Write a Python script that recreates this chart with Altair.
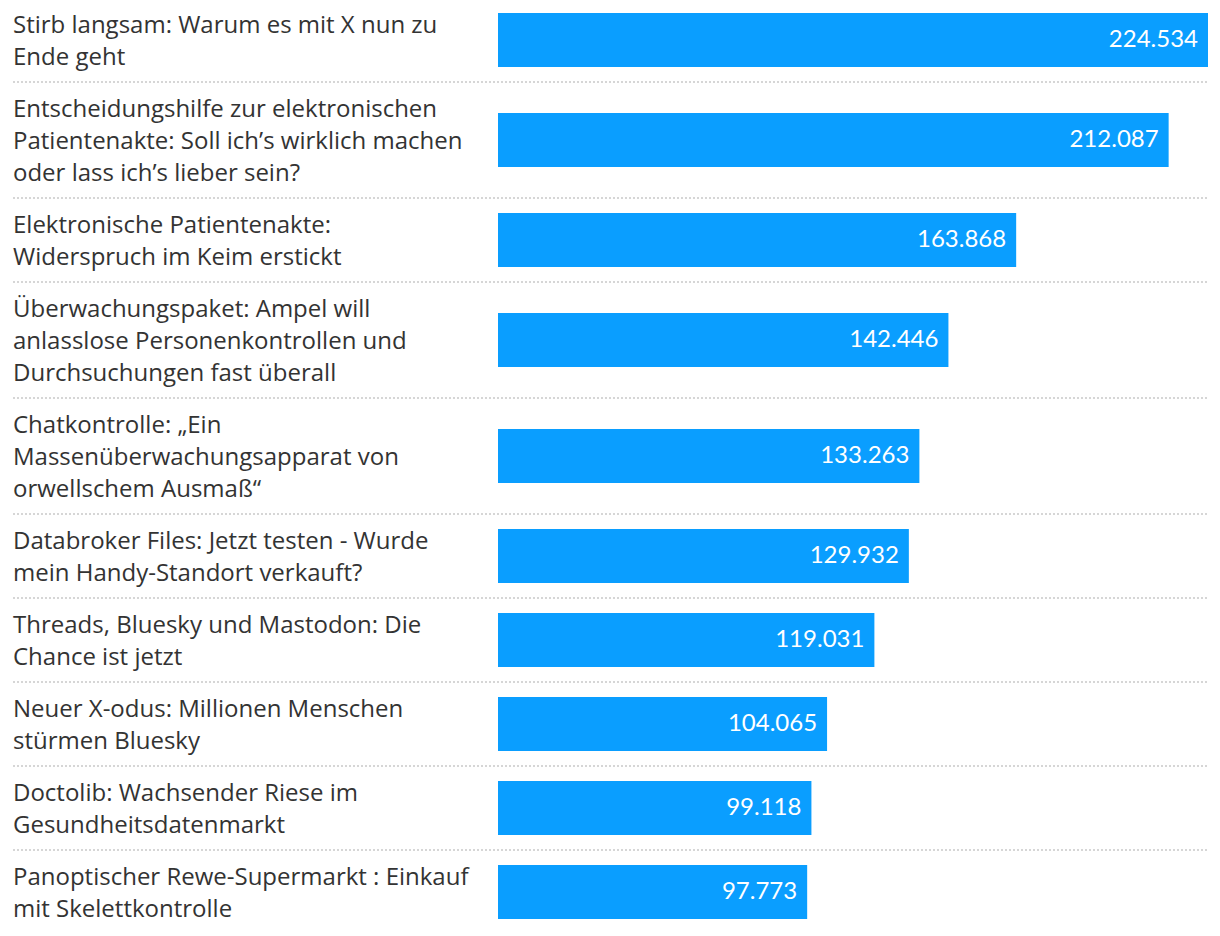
import altair as alt
import pandas as pd

titles = [
    "Stirb langsam: Warum es mit X nun zu\nEnde geht",
    "Entscheidungshilfe zur elektronischen\nPatientenakte: Soll ich’s wirklich machen\noder lass ich’s lieber sein?",
    "Elektronische Patientenakte:\nWiderspruch im Keim erstickt",
    "Überwachungspaket: Ampel will\nanlasslose Personenkontrollen und\nDurchsuchungen fast überall",
    "Chatkontrolle: „Ein\nMassenüberwachungsapparat von\norwellschem Ausmaß“",
    "Databroker Files: Jetzt testen - Wurde\nmein Handy-Standort verkauft?",
    "Threads, Bluesky und Mastodon: Die\nChance ist jetzt",
    "Neuer X-odus: Millionen Menschen\nstürmen Bluesky",
    "Doctolib: Wachsender Riese im\nGesundheitsdatenmarkt",
    "Panoptischer Rewe-Supermarkt : Einkauf\nmit Skelettkontrolle",
]
views = [224534, 212087, 163868, 142446, 133263, 129932, 119031, 104065, 99118, 97773]

LINE_H = 32
PAD = 20
BAR_H = 54

df = pd.DataFrame({"title": titles, "views": views})
df["lines"] = df["title"].str.count("\n") + 1
df["rowh"] = PAD + LINE_H * df["lines"]
df["bottom"] = df["rowh"].cumsum()
df["top"] = df["bottom"] - df["rowh"]
df["center"] = (df["top"] + df["bottom"]) / 2
df["ty"] = df["center"] - (df["lines"] - 1) * LINE_H / 2
df["b0"] = df["center"] - BAR_H / 2
df["b1"] = df["center"] + BAR_H / 2
df["label"] = df["views"].map(lambda v: f"{v:,}".replace(",", "."))
total = int(df["bottom"].iloc[-1])

seps = pd.DataFrame({"y": df["bottom"].iloc[:-1].tolist()})

yscale = alt.Scale(domain=[0, total], range=[-10, total - 10], zero=False, nice=False)
xscale = alt.Scale(domain=[0, max(views)], range=[490, 1200], zero=False, nice=False)

base = alt.Chart(df)

bars = base.mark_bar(color="#0A9EFF").encode(
    x=alt.X("views:Q", scale=xscale, axis=None),
    x2=alt.datum(0),
    y=alt.Y("b0:Q", scale=yscale, axis=None),
    y2="b1:Q",
)

values = base.mark_text(
    align="right", baseline="middle", dx=-10, color="white",
    font="Lato", fontSize=24,
).encode(
    x=alt.X("views:Q", scale=xscale, axis=None),
    y=alt.Y("center:Q", scale=yscale, axis=None),
    text="label:N",
)

labels = base.mark_text(
    align="left", baseline="middle", lineBreak="\n", lineHeight=LINE_H,
    color="#333333", font="Open Sans", fontSize=24, dy=2,
).encode(
    x=alt.value(5),
    y=alt.Y("ty:Q", scale=yscale, axis=None),
    text="title:N",
)

rules = alt.Chart(seps).mark_rule(
    color="#d6d6d6", strokeWidth=2, strokeDash=[2, 2]
).encode(
    x=alt.value(5),
    x2=alt.value(1200),
    y=alt.Y("y:Q", scale=yscale, axis=None),
)

chart = alt.layer(rules, bars, values, labels).properties(
    width=1204, height=928, padding=0, autosize="none"
).configure_view(stroke=None)

chart.save("out.html", embed_options={"renderer": "svg", "actions": False})
